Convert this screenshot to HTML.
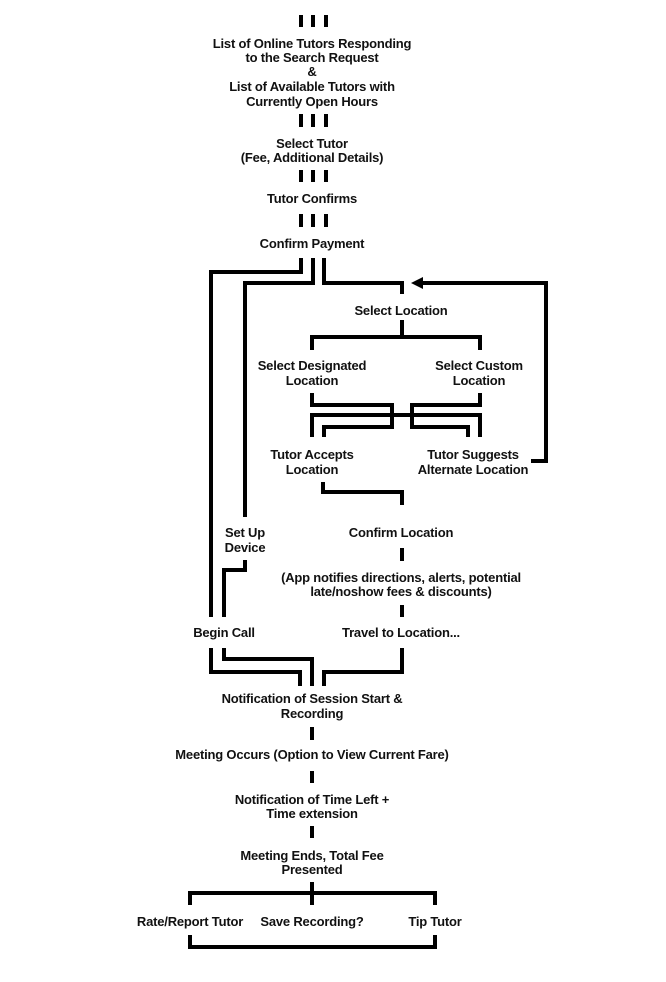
<!DOCTYPE html>
<html><head><meta charset="utf-8"><style>
html,body{margin:0;padding:0;background:#fff;}
svg{display:block}
text{font-family:"Liberation Sans",sans-serif;font-weight:bold;font-size:13px;fill:#111;text-anchor:middle;letter-spacing:-0.2px}
</style></head><body>
<svg width="666" height="982" viewBox="0 0 666 982" xmlns="http://www.w3.org/2000/svg">
<g stroke="#000" stroke-width="4" fill="none" stroke-linejoin="miter" stroke-linecap="butt">
<path d="M301 15V27M313 15V27M326 15V27"/>
<path d="M301 114V127M313 114V127M326 114V127"/>
<path d="M301 170V182M313 170V182M326 170V182"/>
<path d="M301 214V227M313 214V227M326 214V227"/>
<path d="M301 258V272H211V617"/>
<path d="M313 258V283H245V517"/>
<path d="M324 258V283H402V294"/>
<path d="M422 283H546V461H531"/>
<path d="M402 320V337M312 350V337H480V350"/>
<path d="M312 393V405H392V427H324V437"/>
<path d="M480 393V405H412V427H468V437"/>
<path d="M312 437V415H480V437"/>
<path d="M323 482V492H402V505"/>
<path d="M402 548V561M402 605V617"/>
<path d="M245 560V570H224V617"/>
<path d="M211 648V672H300V686"/>
<path d="M224 648V659H312V686"/>
<path d="M402 648V672H324V686"/>
<path d="M312 727V740M312 771V783M312 826V838"/>
<path d="M312 882V893M190 905V893H435V905M312 893V905"/>
<path d="M190 935V947H435V935"/>
</g>
<polygon points="411,283 423,277 423,289" fill="#000"/>
<text x="312" y="48">List of Online Tutors Responding</text>
<text x="312" y="62">to the Search Request</text>
<text x="312" y="76">&amp;</text>
<text x="312" y="91">List of Available Tutors with</text>
<text x="312" y="106">Currently Open Hours</text>
<text x="312" y="148">Select Tutor</text>
<text x="312" y="162">(Fee, Additional Details)</text>
<text x="312" y="203">Tutor Confirms</text>
<text x="312" y="248">Confirm Payment</text>
<text x="401" y="315">Select Location</text>
<text x="312" y="370">Select Designated</text>
<text x="312" y="385">Location</text>
<text x="479" y="370">Select Custom</text>
<text x="479" y="385">Location</text>
<text x="312" y="459">Tutor Accepts</text>
<text x="312" y="474">Location</text>
<text x="473" y="459">Tutor Suggests</text>
<text x="473" y="474">Alternate Location</text>
<text x="245" y="537">Set Up</text>
<text x="245" y="552">Device</text>
<text x="401" y="537">Confirm Location</text>
<text x="401" y="582">(App notifies directions, alerts, potential</text>
<text x="401" y="596">late/noshow fees &amp; discounts)</text>
<text x="224" y="637">Begin Call</text>
<text x="401" y="637">Travel to Location...</text>
<text x="312" y="703">Notification of Session Start &amp;</text>
<text x="312" y="718">Recording</text>
<text x="312" y="759">Meeting Occurs (Option to View Current Fare)</text>
<text x="312" y="804">Notification of Time Left +</text>
<text x="312" y="818">Time extension</text>
<text x="312" y="860">Meeting Ends, Total Fee</text>
<text x="312" y="874">Presented</text>
<text x="190" y="926">Rate/Report Tutor</text>
<text x="312" y="926">Save Recording?</text>
<text x="435" y="926">Tip Tutor</text>
</svg>
</body></html>
